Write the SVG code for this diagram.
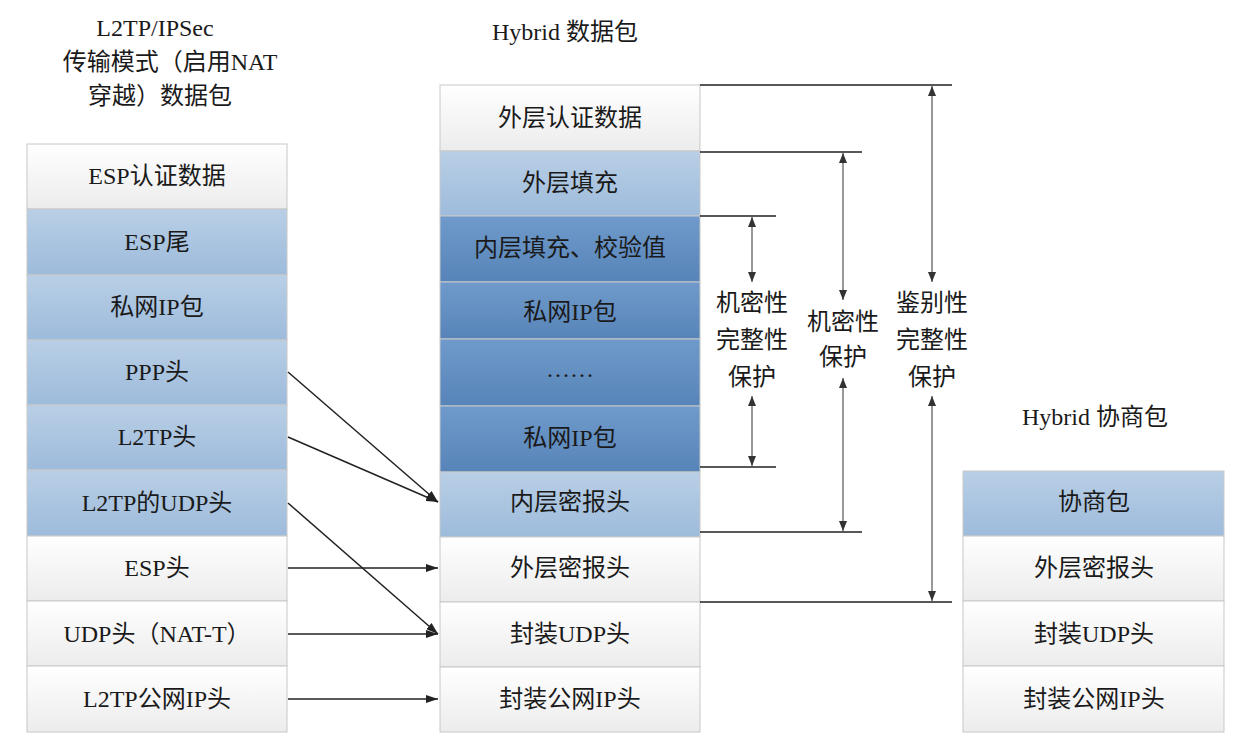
<svg xmlns="http://www.w3.org/2000/svg" width="1240" height="748" viewBox="0 0 1240 748">
<style>
text{font-family:"Liberation Serif","Noto Sans CJK SC",serif;font-size:24px;fill:#1a1a1a;text-anchor:middle;dominant-baseline:central}
.w{fill:url(#gw);stroke:#c8c8c8;stroke-width:1}
.b{fill:url(#gb);stroke:#c8c8c8;stroke-width:1}
.d{fill:url(#gd);stroke:#c8c8c8;stroke-width:1}
.l{stroke:#222;stroke-width:1.3;fill:none}
.a{stroke:#222;stroke-width:1.5;fill:none;marker-end:url(#ah)}
.dim{stroke:#333;stroke-width:1;fill:none;marker-start:url(#dh);marker-end:url(#dh)}
</style>
<defs>
<linearGradient id="gw" x1="0" y1="0" x2="0" y2="1"><stop offset="0" stop-color="#ffffff"/><stop offset="1" stop-color="#ececec"/></linearGradient>
<linearGradient id="gb" x1="0" y1="0" x2="0" y2="1"><stop offset="0" stop-color="#b9cfe6"/><stop offset="1" stop-color="#9dbbdb"/></linearGradient>
<linearGradient id="gd" x1="0" y1="0" x2="0" y2="1"><stop offset="0" stop-color="#6f9acb"/><stop offset="1" stop-color="#5784b8"/></linearGradient>
<marker id="ah" markerWidth="12" markerHeight="8" refX="12" refY="4" orient="auto" markerUnits="userSpaceOnUse"><path d="M0,0 L12,4 L0,8 Z" fill="#222"/></marker>
<marker id="dh" markerWidth="10" markerHeight="8" refX="10" refY="4" orient="auto-start-reverse" markerUnits="userSpaceOnUse"><path d="M0,0 L10,4 L0,8 Z" fill="#333"/></marker>
</defs>
<rect width="1240" height="748" fill="#fff"/>
<g id="titles">
<text x="155" y="28">L2TP/IPSec</text>
<text x="170" y="62">传输模式（启用NAT</text>
<text x="160" y="96">穿越）数据包</text>
<text x="565" y="32">Hybrid 数据包</text>
<text x="1095" y="417">Hybrid 协商包</text>
</g>
<g id="left">
<g id="l1"><rect class="w" x="27" y="144" width="260" height="65"/><text x="157" y="176">ESP认证数据</text></g>
<g id="l2"><rect class="b" x="27" y="209" width="260" height="66"/><text x="157" y="242">ESP尾</text></g>
<g id="l3"><rect class="b" x="27" y="275" width="260" height="65"/><text x="157" y="307">私网IP包</text></g>
<g id="l4"><rect class="b" x="27" y="340" width="260" height="65"/><text x="157" y="372">PPP头</text></g>
<g id="l5"><rect class="b" x="27" y="405" width="260" height="65"/><text x="157" y="437">L2TP头</text></g>
<g id="l6"><rect class="b" x="27" y="470" width="260" height="66"/><text x="157" y="503">L2TP的UDP头</text></g>
<g id="l7"><rect class="w" x="27" y="536" width="260" height="65"/><text x="157" y="568">ESP头</text></g>
<g id="l8"><rect class="w" x="27" y="601" width="260" height="65"/><text x="157" y="634">UDP头（NAT-T）</text></g>
<g id="l9"><rect class="w" x="27" y="666" width="260" height="66"/><text x="157" y="699">L2TP公网IP头</text></g>
</g>
<g id="mid">
<g id="m1"><rect class="w" x="440" y="85" width="260" height="66"/><text x="570" y="118">外层认证数据</text></g>
<g id="m2"><rect class="b" x="440" y="151" width="260" height="65"/><text x="570" y="183">外层填充</text></g>
<g id="m3"><rect class="d" x="440" y="216" width="260" height="66"/><text x="570" y="248">内层填充、校验值</text></g>
<g id="m4"><rect class="d" x="440" y="282" width="260" height="57"/><text x="570" y="312">私网IP包</text></g>
<g id="m5"><rect class="d" x="440" y="339" width="260" height="67"/><text x="570" y="369">……</text></g>
<g id="m6"><rect class="d" x="440" y="406" width="260" height="66"/><text x="570" y="438">私网IP包</text></g>
<g id="m7"><rect class="b" x="440" y="472" width="260" height="65"/><text x="570" y="502">内层密报头</text></g>
<g id="m8"><rect class="w" x="440" y="537" width="260" height="65"/><text x="570" y="568">外层密报头</text></g>
<g id="m9"><rect class="w" x="440" y="602" width="260" height="65"/><text x="570" y="634">封装UDP头</text></g>
<g id="m10"><rect class="w" x="440" y="667" width="260" height="65"/><text x="570" y="699">封装公网IP头</text></g>
</g>
<g id="right">
<g id="r1"><rect class="b" x="963" y="471" width="261" height="65"/><text x="1094" y="502">协商包</text></g>
<g id="r2"><rect class="w" x="963" y="536" width="261" height="65"/><text x="1094" y="568">外层密报头</text></g>
<g id="r3"><rect class="w" x="963" y="601" width="261" height="65"/><text x="1094" y="634">封装UDP头</text></g>
<g id="r4"><rect class="w" x="963" y="666" width="261" height="66"/><text x="1094" y="699">封装公网IP头</text></g>
</g>
<g id="connectors">
<path class="a" d="M288,372 L438,502"/>
<path class="a" d="M288,437 L438,502"/>
<path class="a" d="M288,503 L438,634"/>
<path class="a" d="M288,568 L438,568"/>
<path class="a" d="M288,634 L438,634"/>
<path class="a" d="M288,699 L438,699"/>
<path class="l" d="M700,216 H776 M700,467 H776 M700,152 H862 M700,532 H862 M700,85 H952 M700,602 H952"/>
<path class="dim" d="M752,217 V282"/><path class="dim" d="M752,466 V396"/>
<path class="dim" d="M843,153 V300"/><path class="dim" d="M843,531 V378"/>
<path class="dim" d="M932,86 V282"/><path class="dim" d="M932,601 V396"/>
</g>
<g id="dimlabels">
<text x="752" y="303">机密性</text><text x="752" y="340">完整性</text><text x="752" y="377">保护</text>
<text x="843" y="322">机密性</text><text x="843" y="357">保护</text>
<text x="932" y="303">鉴别性</text><text x="932" y="340">完整性</text><text x="932" y="377">保护</text>
</g>
</svg>
